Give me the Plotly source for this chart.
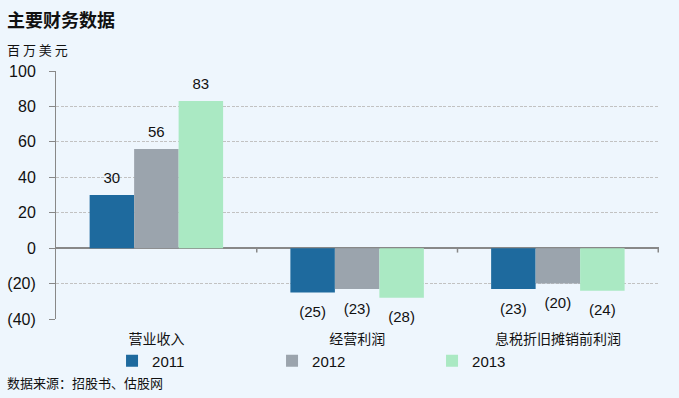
import plotly.graph_objects as go

categories = ["营业收入", "经营利润", "息税折旧摊销前利润"]
years = ["2011", "2012", "2013"]
v2011 = [30, -25, -23]
v2012 = [56, -23, -20]
v2013 = [83, -28, -24]
tick_vals = [100, 80, 60, 40, 20, 0, -20, -40]
tick_text = ["100", "80", "60", "40", "20", "0", "(20)", "(40)"]

colors = ["#1E6A9E", "#9BA4AD", "#AAE9C3"]
bg = "#EEF6FD"
GAP = 0.335

def fmt(v):
    return str(v) if v >= 0 else "(%d)" % (-v)

fig = go.Figure()
series = [v2011, v2012, v2013]
for name, vals, c in zip(years, series, colors):
    fig.add_trace(go.Bar(
        x=categories, y=vals, name=name, marker=dict(color=c, line=dict(width=0)),
        offsetgroup=name, hoverinfo="skip",
    ))
for name, vals in zip(years, series):
    fig.add_trace(go.Scatter(
        x=categories, y=vals, mode="markers+text", showlegend=False, offsetgroup=name,
        text=[fmt(v) for v in vals],
        textposition=["top center" if v >= 0 else "bottom center" for v in vals],
        marker=dict(opacity=0, size=[12 if v >= 0 else 20 for v in vals]),
        textfont=dict(family="Arial, Liberation Sans", size=15, color="#111"),
        cliponaxis=False, hoverinfo="skip",
    ))

# category separator ticks on zero line
for xv in [0.5, 1.5, 2.5]:
    fig.add_shape(type="line", xref="x", yref="y", x0=xv, x1=xv, y0=0, y1=-2.5,
                  line=dict(color="#888", width=1.5))

fig.update_layout(
    width=679, height=398,
    paper_bgcolor=bg, plot_bgcolor=bg,
    margin=dict(l=56, r=20, t=71, b=79, autoexpand=False),
    barmode="group", bargap=GAP, bargroupgap=0,
    scattermode="group", scattergap=GAP,
    font=dict(family="Noto Sans CJK SC", color="#111"),
    showlegend=True,
    legend=dict(orientation="h", xref="container", yref="container",
                x=0.165, xanchor="left", y=0.093, yanchor="middle",
                entrywidth=115, entrywidthmode="pixels",
                font=dict(family="Arial, Liberation Sans", size=15),
                itemwidth=30, bgcolor="rgba(0,0,0,0)", traceorder="normal"),
)
fig.update_xaxes(showline=False, ticks="", showgrid=False, zeroline=False, automargin=False,
                 ticklabelstandoff=10,
                 tickfont=dict(family="Noto Sans CJK SC", size=14, color="#111"))
fig.update_yaxes(range=[-40, 100], tickvals=tick_vals, ticktext=tick_text, automargin=False,
                 showline=True, linecolor="#888", linewidth=1,
                 ticks="outside", ticklen=6, tickcolor="#888", ticklabelstandoff=10,
                 showgrid=True, gridcolor="#C2C2C2", griddash="3px,1.5px", gridwidth=1,
                 zeroline=True, zerolinecolor="#888", zerolinewidth=1.5,
                 tickfont=dict(family="Arial, Liberation Sans", size=16, color="#111"))

fig.add_annotation(text="<b>主要财务数据</b>", xref="paper", yref="paper", x=-0.0844, y=1.27,
                   xanchor="left", yanchor="top", showarrow=False,
                   font=dict(family="Noto Sans CJK SC", size=18, color="#111"))
fig.add_annotation(text="百 万 美 元", xref="paper", yref="paper", x=-0.0844, y=1.135,
                   xanchor="left", yanchor="top", showarrow=False,
                   font=dict(family="Noto Sans CJK SC", size=13, color="#111"))
fig.add_annotation(text="数据来源：招股书、估股网", xref="paper", yref="paper", x=-0.0844, y=-0.258,
                   xanchor="left", yanchor="middle", showarrow=False,
                   font=dict(family="Noto Sans CJK SC", size=13, color="#111"))

fig.write_html("out.html", config={"displayModeBar": False},
               post_script="document.body.style.margin='0';document.body.style.background='%s';" % bg)
